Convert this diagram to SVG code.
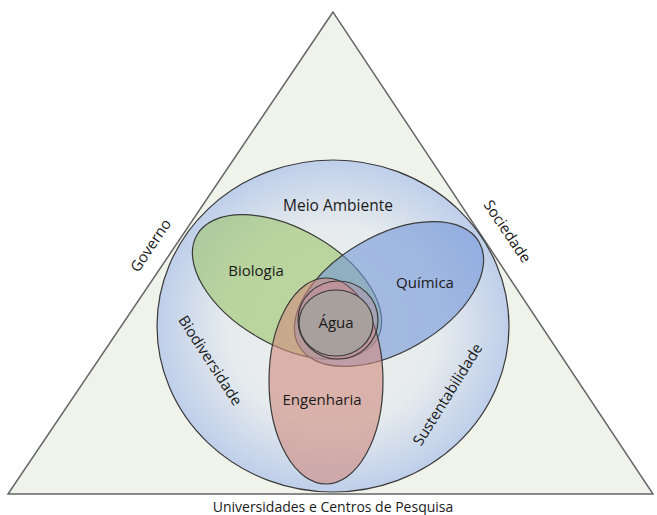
<svg xmlns="http://www.w3.org/2000/svg" width="657" height="515" viewBox="0 0 657 515">
<style>
text{font-family:"Open Sans","Liberation Sans",sans-serif;fill:#1a1a1a;text-anchor:middle;dominant-baseline:central}
.lbl{font-size:15px}
.s{stroke:#3a3a3a;stroke-width:1.2}
</style>
<defs>
<radialGradient id="env" cx="50%" cy="50%" r="50%">
<stop offset="0" stop-color="#eef1ea"/>
<stop offset="0.6" stop-color="#e6ebed"/>
<stop offset="1" stop-color="#bfcfea"/>
</radialGradient>
</defs>
<rect width="657" height="515" fill="#fff"/>
<g id="triangle">
<polygon points="333,12 8,494 653,494" fill="#f0f3ea" stroke="#666" stroke-width="1.5"/>
<text class="lbl" transform="translate(150,245) rotate(-56)">Governo</text>
<text class="lbl" transform="translate(508,231) rotate(56)">Sociedade</text>
<text x="333" y="506" style="font-size:14px">Universidades e Centros de Pesquisa</text>
</g>
<g id="meio-ambiente">
<ellipse cx="333" cy="326" rx="176" ry="166" fill="url(#env)" class="s"/>
<text x="338" y="205" style="font-size:15.5px">Meio Ambiente</text>
<text class="lbl" transform="translate(211,360) rotate(57)">Biodiversidade</text>
<text class="lbl" transform="translate(447,394) rotate(-58)">Sustentabilidade</text>
</g>
<g id="biologia">
<ellipse cx="287" cy="287" rx="104" ry="58" transform="rotate(30 287 287)" fill="#9cc46a" fill-opacity="0.6" class="s"/>
</g>
<g id="quimica">
<ellipse cx="389" cy="294" rx="104" ry="58" transform="rotate(-30 389 294)" fill="#7396d8" fill-opacity="0.6" class="s"/>
</g>
<g id="engenharia">
<ellipse cx="326" cy="381" rx="57" ry="103" fill="#d08a7e" fill-opacity="0.6" class="s"/>
</g>
<g id="agua">
<ellipse cx="338" cy="320" rx="40" ry="39" fill="#c98aa0" fill-opacity="0.35" class="s"/>
<ellipse cx="336" cy="323" rx="37" ry="33" fill="#a7a09c" class="s" stroke-width="1.6"/>
<text class="lbl" x="336" y="322">Água</text>
</g>
<g id="labels">
<text class="lbl" x="256" y="270">Biologia</text>
<text class="lbl" x="425" y="282">Química</text>
<text class="lbl" x="322" y="399">Engenharia</text>
</g>
<g id="connectors"></g>
</svg>
